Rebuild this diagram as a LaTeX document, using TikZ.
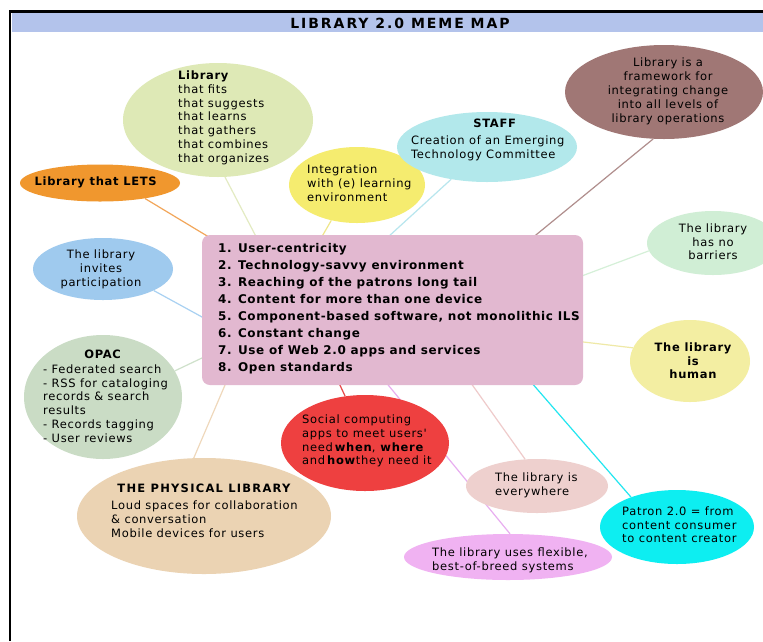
\documentclass[tikz,border=0pt]{standalone}
\usepackage{fontspec}
\setmainfont{DejaVu Sans}
\newfontfamily\mapfont[LetterSpace=6]{DejaVu Sans}
\newfontfamily\listfont[LetterSpace=5]{DejaVu Sans}
\newfontfamily\headfont[LetterSpace=14]{DejaVu Sans}
\newfontfamily\capsfont[LetterSpace=11]{DejaVu Sans}
\usetikzlibrary{shapes.geometric,backgrounds,calc}

% bubble fills
\definecolor{cBar}{HTML}{B3C3EB}
\definecolor{cLib}{HTML}{DEE9B6}
\definecolor{cLets}{HTML}{F0972E}
\definecolor{cInt}{HTML}{F5EC6F}
\definecolor{cStaff}{HTML}{B2E8EB}
\definecolor{cFrame}{HTML}{A07775}
\definecolor{cBarr}{HTML}{D0EED5}
\definecolor{cHum}{HTML}{F3EEA2}
\definecolor{cInv}{HTML}{9FCAEE}
\definecolor{cOpac}{HTML}{CADCC5}
\definecolor{cBox}{HTML}{E2B8D0}
\definecolor{cSoc}{HTML}{EE4040}
\definecolor{cPhys}{HTML}{EBD3B3}
\definecolor{cEvery}{HTML}{EED0CE}
\definecolor{cFlex}{HTML}{F0B2F2}
\definecolor{cPat}{HTML}{0DEEF1}
% connector colours
\definecolor{lLets}{HTML}{F2A65A}
\definecolor{lLib}{HTML}{E3EBC2}
\definecolor{lInt}{HTML}{EFE68A}
\definecolor{lStaff}{HTML}{B8E6EE}
\definecolor{lFrame}{HTML}{B08E8D}
\definecolor{lBarr}{HTML}{D5F0D8}
\definecolor{lHum}{HTML}{EFE9A7}
\definecolor{lInv}{HTML}{A9D1F2}
\definecolor{lOpac}{HTML}{CFE1CB}
\definecolor{lPhys}{HTML}{EFD8BB}
\definecolor{lSoc}{HTML}{E64848}
\definecolor{lFlex}{HTML}{E8AEF0}
\definecolor{lEvery}{HTML}{EFCBCB}
\definecolor{lPat}{HTML}{22E6F0}

\tikzset{
  bubble/.style={ellipse, inner sep=0pt, draw=none},
  txt/.style={inner sep=0pt, text=black, font=\mapfont\fontsize{11.5}{13.8}\selectfont},
  link/.style={line width=1.2pt},
}

\begin{document}
\begin{tikzpicture}[x=1pt, y=-1pt]
\useasboundingbox (0,0) rectangle (763,641);
\clip (0,0) rectangle (763,641);

% frame and title bar
\fill[cBar] (11.5,12.7) rectangle (763,31.7);
\draw[line width=2.5pt] (10,641) -- (10,11.5) -- (763,11.5);
\node[inner sep=0pt, anchor=base, font=\headfont\bfseries\fontsize{14}{16}\selectfont] (title) at (400,28.3) {LIBRARY 2.0 MEME MAP};

% central list
\node[rectangle, rounded corners=8pt, fill=cBox, minimum width=381pt, minimum height=150pt, inner sep=0pt] (box) at (392.5,310) {};
\node[txt, font=\listfont\bfseries\fontsize{12}{17.06}\selectfont, align=left, anchor=north west] (box-t) at (218,243.2)
  {1. User-centricity\\2. Technology-savvy environment\\3. Reaching of the patrons long tail\\4. Content for more than one device\\5. Component-based software, not monolithic ILS\\6. Constant change\\7. Use of Web 2.0 apps and services\\8. Open standards};

% bubbles
\node[bubble, fill=cLib, minimum width=190pt, minimum height=114pt] (lib) at (218,120) {};
\node[txt, align=left, anchor=north west] (lib-t) at (178,70.6)
  {\textbf{Library}\\that fits\\that suggests\\that learns\\that gathers\\that combines\\that organizes};

\node[bubble, fill=cLets, minimum width=160pt, minimum height=37pt] (lets) at (100,183) {};
\node[txt, anchor=base] (lets-t) at (96,185) {\textbf{Library that LETS}};

\node[bubble, fill=cInt, minimum width=136pt, minimum height=76pt] (int) at (357,185) {};
\node[txt, align=left, anchor=north west] (int-t) at (307,165)
  {Integration\\with (e) learning\\environment};

\node[bubble, fill=cStaff, minimum width=180pt, minimum height=70pt] (staff) at (487,147) {};
\node[txt, anchor=base] (staff-h) at (495,127) {\textbf{STAFF}};
\node[txt, align=left, anchor=north west] (staff-t) at (411,135.3)
  {Creation of an Emerging\\Technology Committee};

\node[bubble, fill=cFrame, minimum width=198pt, minimum height=94pt] (frame) at (664,92) {};
\node[txt, align=center, anchor=north] (frame-t) at (668,58)
  {Library is a\\framework for\\integrating change\\into all levels of\\library operations};

\node[bubble, fill=cBarr, minimum width=132pt, minimum height=64pt] (barr) at (713,243) {};
\node[txt, align=center, anchor=north] (barr-t) at (713,223.3)
  {The library\\has no\\barriers};

\node[bubble, fill=cHum, minimum width=120pt, minimum height=82pt] (hum) at (690,361) {};
\node[txt, font=\mapfont\bfseries\fontsize{11.5}{13.3}\selectfont, align=center, anchor=north] (hum-t) at (693,343)
  {The library\\is\\human};

\node[bubble, fill=cInv, minimum width=140pt, minimum height=62pt] (inv) at (103,269) {};
\node[txt, align=center, anchor=north] (inv-t) at (101,249.6)
  {The library\\invites\\participation};

\node[bubble, fill=cOpac, minimum width=158pt, minimum height=124pt] (opac) at (103,397) {};
\node[txt, anchor=base] (opac-h) at (103,358) {\textbf{OPAC}};
\node[txt, align=left, anchor=north west] (opac-t) at (43,364.3)
  {- Federated search\\- RSS for cataloging\\records \& search\\results\\- Records tagging\\- User reviews};

\node[bubble, fill=cSoc, minimum width=168pt, minimum height=96pt] (soc) at (365,443) {};
\node[txt, align=left, anchor=north west] (soc-t) at (302,414.6)
  {Social computing\\apps to meet users'\\need\,\textbf{when}, \textbf{where}\\and\,\textbf{how}they need it};

\node[bubble, fill=cPhys, minimum width=254pt, minimum height=116pt] (phys) at (204,516) {};
\node[txt, font=\capsfont\bfseries\fontsize{11.5}{13.8}\selectfont, anchor=base] (phys-h) at (204,492) {THE PHYSICAL LIBRARY};
\node[txt, align=left, anchor=north west] (phys-t) at (111,500.6)
  {Loud spaces for collaboration\\\& conversation\\Mobile devices for users};

\node[bubble, fill=cEvery, minimum width=142pt, minimum height=54pt] (every) at (537,486) {};
\node[txt, align=left, anchor=north west] (every-t) at (495,473)
  {The library is\\everywhere};

\node[bubble, fill=cFlex, minimum width=208pt, minimum height=46pt] (flex) at (508,557) {};
\node[txt, align=left, anchor=north west] (flex-t) at (432,547.3)
  {The library uses flexible,\\best-of-breed systems};

\node[bubble, fill=cPat, minimum width=154pt, minimum height=74pt] (pat) at (677,527) {};
\node[txt, align=left, anchor=north west] (pat-t) at (622,506.3)
  {Patron 2.0 = from\\content consumer\\to content creator};

% connectors, behind the bubbles
\begin{scope}[on background layer]
\fill[white] (0,0) rectangle (763,641);
\draw[link, draw=lLets]  (lets.-19)    -- ($(box.north west)+(15,7)$);
\draw[link, draw=lLib]   (lib.-83)     -- ($(box.north west)+(58,9)$);
\draw[link, draw=lInt]   (int.-126)    -- ($(box.north west)+(116,9)$);
\draw[link, draw=lStaff] (staff.-138)  -- ($(box.north west)+(181,7)$);
\draw[link, draw=lFrame] (frame.-103.5)-- ($(box.north west)+(327,6)$);
\draw[link, draw=lBarr]  (barr.-173)   -- ($(box.north east)+(-9,44)$);
\draw[link, draw=lHum]   (hum.167)     -- ($(box.north east)+(-10,106)$);
\draw[link, draw=lInv]   (inv.-23)     -- ($(box.north west)+(9,87)$);
\draw[link, draw=lOpac]  (opac.20)     -- ($(box.north west)+(9,119)$);
\draw[link, draw=lPhys]  (phys.100.7)  -- ($(box.south west)+(27,-9)$);
\draw[link, draw=lSoc]   (soc.113.5)   -- ($(box.south west)+(134,-9)$);
\draw[link, draw=lFlex]  (flex.85)     -- ($(box.south west)+(180,-8)$);
\draw[link, draw=lEvery] (every.114)   -- ($(box.south west)+(265,-8)$);
\draw[link, draw=lPat]   (pat.147.5)   -- ($(box.south west)+(325,-8)$);
\end{scope}
\end{tikzpicture}
\end{document}
